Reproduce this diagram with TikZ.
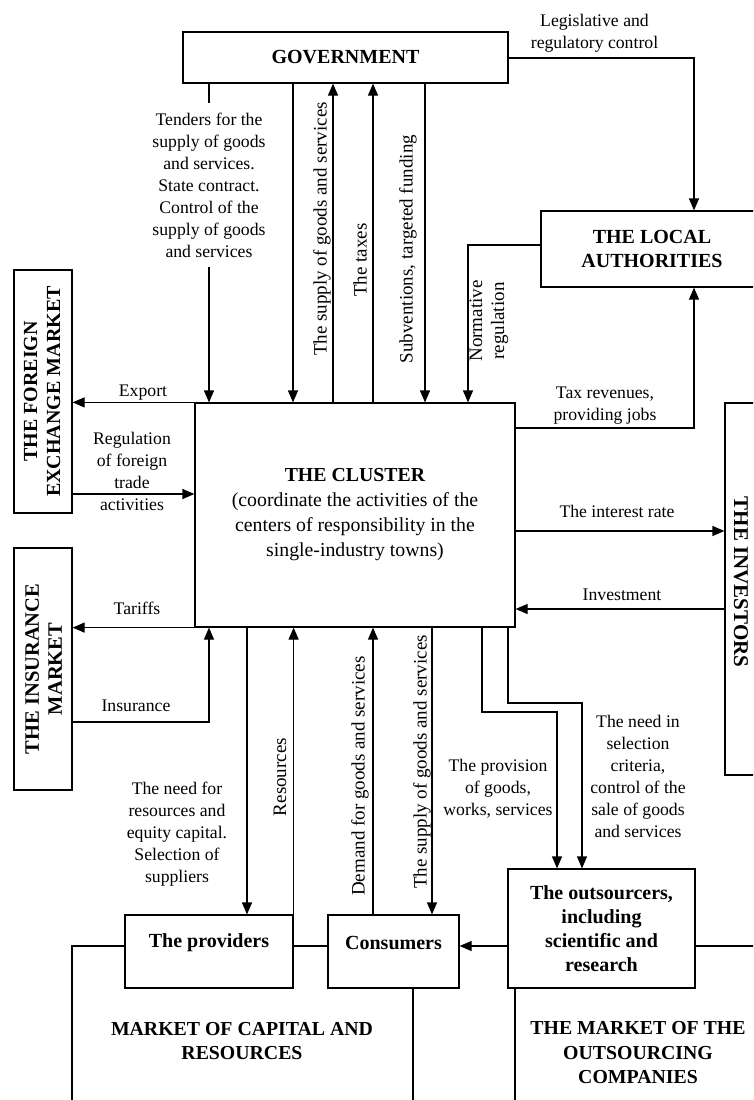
\documentclass[tikz,border=0pt]{standalone}
\usepackage{fontspec}
\setmainfont{Liberation Serif}
\usetikzlibrary{arrows.meta}
\begin{document}
\begin{tikzpicture}[x=1pt,y=-1pt,line width=1.2pt,
  >={Triangle[length=12pt,width=10pt]},
  box/.style={draw,inner sep=0pt,align=center},
  lbl/.style={font=\fontsize{17.7}{22}\selectfont,align=center,inner sep=0pt},
  vlbl/.style={font=\fontsize{19}{22}\selectfont,align=center,inner sep=0pt,rotate=90},
  hd/.style={font=\bfseries\fontsize{20}{24.5}\selectfont,align=center,inner sep=0pt}]
\useasboundingbox (0,0) rectangle (753,1100);
\clip (0,0) rectangle (753,1100);

% boxes
\node[box,hd,minimum width=325pt,minimum height=51pt] (gov) at (345.5,57.5) {GOVERNMENT};
\node[box,hd,minimum width=222pt,minimum height=76pt] (la) at (652,249) {THE LOCAL\\AUTHORITIES};
\node[box,minimum width=58pt,minimum height=243pt] (fx) at (43,391.5) {};
\node[hd,rotate=90,font=\bfseries\fontsize{20}{23}\selectfont] (fxt) at (42,391.5) {THE FOREIGN\\EXCHANGE MARKET};
\node[box,minimum width=58pt,minimum height=242pt] (ins) at (43,669) {};
\node[hd,rotate=90,font=\bfseries\fontsize{20.5}{23}\selectfont] (inst) at (43.5,669) {THE INSURANCE\\MARKET};
\node[box,minimum width=320pt,minimum height=224pt,font=\fontsize{19.8}{25}\selectfont] (cl) at (355,515)
  {\textbf{THE CLUSTER}\\(coordinate the activities of the\\centers of responsibility in the\\single-industry towns)};
\node[box,minimum width=32pt,minimum height=372pt] (inv) at (741,589) {};
\node[hd,rotate=-90,font=\bfseries\fontsize{21}{24}\selectfont] (invt) at (741,582) {THE INVESTORS};
\node[box,hd,minimum width=187pt,minimum height=119pt,font=\bfseries\fontsize{20}{24}\selectfont] (out) at (601.5,928.5)
  {The outsourcers,\\including\\scientific and\\research};
\node[box,minimum width=168pt,minimum height=73pt] (prov) at (209,951.5) {};
\node[hd] (provt) at (209,943) {The providers};
\node[box,minimum width=131pt,minimum height=73pt] (cons) at (393.5,951.5) {};
\node[hd] (const) at (393.5,943) {Consumers};

% labels
\node[lbl,inner ysep=9pt] (tend) at (209,185) {Tenders for the\\supply of goods\\and services.\\State contract.\\Control of the\\supply of goods\\and services};
\node[vlbl] (supt) at (322,229) {The supply of goods and services};
\node[vlbl] (taxes) at (360,260) {The taxes};
\node[vlbl] (subv) at (408,249) {Subventions, targeted funding};
\node[vlbl] (norm) at (489,321) {Normative\\regulation};
\node[lbl] (legis) at (594.5,33) {Legislative and\\regulatory control};
\node[lbl] (taxrev) at (605,406) {Tax revenues,\\providing jobs};
\node[lbl] (export) at (143,393) {Export};
\node[lbl] (regul) at (132,471.5) {Regulation\\of foreign\\trade\\activities};
\node[lbl] (tariffs) at (137,608) {Tariffs};
\node[lbl] (insur) at (136,706) {Insurance};
\node[lbl] (needres) at (177,834) {The need for\\resources and\\equity capital.\\Selection of\\suppliers};
\node[vlbl] (resl) at (280,777) {Resources};
\node[vlbl] (deml) at (360,776) {Demand for goods and services};
\node[vlbl] (supb) at (422,762) {The supply of goods and services};
\node[lbl] (provis) at (498,789) {The provision\\of goods,\\works, services};
\node[lbl] (needsel) at (638,776) {The need in\\selection\\criteria,\\control of the\\sale of goods\\and services};
\node[lbl] (intr) at (617,511) {The interest rate};
\node[lbl] (invl) at (622,595) {Investment};
\node[hd,font=\bfseries\fontsize{19.8}{24.5}\selectfont] (mkt1) at (242,1041) {MARKET OF CAPITAL AND\\RESOURCES};
\node[hd,font=\bfseries\fontsize{19.8}{24.5}\selectfont] (mkt2) at (638,1053) {THE MARKET OF THE\\OUTSOURCING\\COMPANIES};

% free ends
\coordinate (e1) at (72,1110);
\coordinate (e2) at (413,1110);
\coordinate (e3) at (515,1110);
\coordinate (e4) at (765,946);

% government <-> cluster
\draw (gov.south -| tend.north) -- (tend.north);
\draw[->] (tend.south) -- (cl.north -| tend.south);
\draw[->] (gov.south -| 293,0) -- (cl.north -| 293,0);
\draw[->] (cl.north -| 333,0) -- (gov.south -| 333,0);
\draw[->] (cl.north -| 373,0) -- (gov.south -| 373,0);
\draw[->] (gov.south -| 425,0) -- (cl.north -| 425,0);
% local authorities
\draw[->] (gov.east |- 0,58) -| (la.north -| 694,0);
\draw[->] (la.west |- 0,245) -| (cl.north -| 468,0);
\draw[->] (cl.east |- 0,428) -| (la.south -| 694,0);
% left markets
\draw[->] (cl.north west) -- (fx.east |- cl.north west);
\draw[->] (fx.east |- 0,494) -- (cl.west |- 0,494);
\draw[->] (cl.south west) -- (ins.east |- cl.south west);
\draw[->] (ins.east |- 0,722) -| (cl.south -| 209,0);
% investors
\draw[->] (cl.east |- 0,531) -- (inv.west |- 0,531);
\draw[->] (inv.west |- 0,609) -- (cl.east |- 0,609);
% bottom
\draw[->] (cl.south -| 247,0) -- (prov.north -| 247,0);
\draw[->] (prov.north east) -- (cl.south -| prov.north east);
\draw[->] (cons.north -| 373,0) -- (cl.south -| 373,0);
\draw[->] (cl.south -| 432,0) -- (cons.north -| 432,0);
\draw[->] (cl.south -| 482,0) -- (482,712) -- (557,712) -- (out.north -| 557,0);
\draw[->] (cl.south -| 508,0) -- (508,703) -- (582,703) -- (out.north -| 582,0);
\draw[->] (out.west |- 0,946) -- (cons.east |- 0,946);
\draw (prov.east |- 0,946) -- (cons.west |- 0,946);
\draw (prov.west |- 0,946) -| (e1);
\draw (cons.south -| e2) -- (e2);
\draw (out.south -| e3) -- (e3);
\draw (out.east |- e4) -- (e4);
\end{tikzpicture}
\end{document}
